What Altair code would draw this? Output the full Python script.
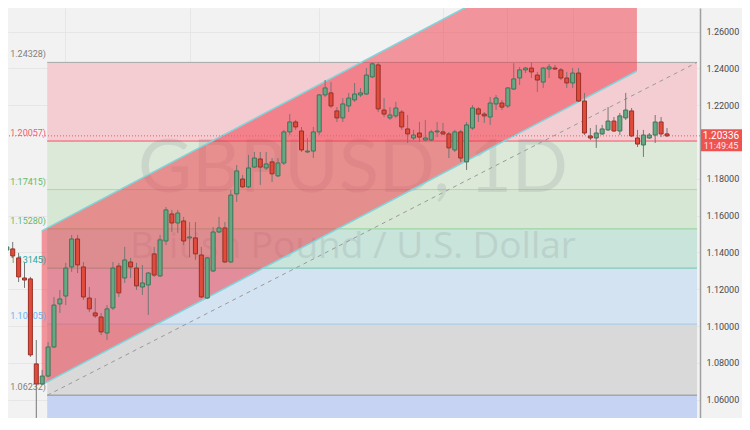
import altair as alt
import pandas as pd

# ---------------- data ----------------
opens = [1.1413, 1.1419, 1.1370, 1.1261, 1.1256, 1.0794, 1.0685, 1.0728, 1.0886, 1.1120,
         1.1163, 1.1321, 1.1473, 1.1321, 1.1152, 1.1071, 1.1049, 1.0962, 1.1098, 1.1326,
         1.1261, 1.1348, 1.1315, 1.1212, 1.1223, 1.1392, 1.1272, 1.1462, 1.1609, 1.1560,
         1.1571, 1.1479, 1.1479, 1.1386, 1.1152, 1.1299, 1.1511, 1.1533, 1.1348, 1.1718,
         1.1799, 1.1756, 1.1864, 1.1908, 1.1859, 1.1892, 1.1816, 1.1886, 1.2055, 1.2109,
         1.2060, 1.1946, 1.1951, 1.2055, 1.2256, 1.2267, 1.2169, 1.2131, 1.2196, 1.2229,
         1.2256, 1.2261, 1.2354, 1.2419, 1.2174, 1.2131, 1.2142, 1.2163, 1.2071, 1.2022,
         1.2049, 1.2011, 1.2011, 1.2055, 1.2055, 1.2044, 1.1957, 1.2055, 1.1892, 1.2076,
         1.2180, 1.2152, 1.2136, 1.2207, 1.2212, 1.2196, 1.2288, 1.2348, 1.2392, 1.2402,
         1.2364, 1.2326, 1.2397, 1.2402, 1.2392, 1.2348, 1.2321, 1.2375, 1.2223, 1.2033,
         1.2022, 1.2044, 1.2066, 1.2114, 1.2060, 1.2131, 1.2169, 1.2022, 1.1984, 1.2022,
         1.2038, 1.2109, 1.2044]
highs = [1.1451, 1.1457, 1.1397, 1.1343, 1.1267, 1.0924, 1.0761, 1.0913, 1.1158, 1.1196,
         1.1343, 1.1495, 1.1495, 1.1348, 1.1212, 1.1152, 1.1071, 1.1114, 1.1348, 1.1343,
         1.1430, 1.1370, 1.1343, 1.1332, 1.1294, 1.1430, 1.1495, 1.1647, 1.1631, 1.1631,
         1.1593, 1.1565, 1.1565, 1.1430, 1.1375, 1.1538, 1.1593, 1.1565, 1.1739, 1.1875,
         1.1821, 1.1930, 1.1946, 1.1946, 1.1946, 1.1913, 1.1913, 1.2066, 1.2152, 1.2120,
         1.2082, 1.2022, 1.2082, 1.2261, 1.2337, 1.2326, 1.2190, 1.2239, 1.2267, 1.2321,
         1.2294, 1.2402, 1.24328, 1.2433, 1.2239, 1.2190, 1.2218, 1.2174, 1.2147, 1.2066,
         1.2109, 1.2120, 1.2066, 1.2109, 1.2104, 1.2055, 1.2066, 1.2066, 1.2109, 1.2201,
         1.2190, 1.2163, 1.2245, 1.2256, 1.2229, 1.2299, 1.2428, 1.2408, 1.2408, 1.2433,
         1.2381, 1.2408, 1.2424, 1.2419, 1.2402, 1.2381, 1.2402, 1.2402, 1.2267, 1.2076,
         1.2093, 1.2093, 1.2190, 1.2136, 1.2158, 1.2267, 1.2185, 1.2066, 1.2066, 1.2049,
         1.2147, 1.2136, 1.2076]
lows = [1.1402, 1.1370, 1.1239, 1.1207, 1.0832, 1.0380, 1.0680, 1.0723, 1.0881, 1.1071,
        1.1114, 1.1294, 1.1288, 1.1142, 1.1076, 1.1044, 1.0951, 1.0924, 1.1087, 1.1158,
        1.1234, 1.1261, 1.1196, 1.1169, 1.1060, 1.1267, 1.1267, 1.1440, 1.1511, 1.1506,
        1.1440, 1.1375, 1.1359, 1.1152, 1.1147, 1.1294, 1.1506, 1.1343, 1.1343, 1.1674,
        1.1750, 1.1750, 1.1859, 1.1767, 1.1848, 1.1783, 1.1810, 1.1875, 1.2038, 1.2066,
        1.1946, 1.1940, 1.1913, 1.2038, 1.2245, 1.2185, 1.2109, 1.2109, 1.2163, 1.2218,
        1.2245, 1.2256, 1.2348, 1.2163, 1.2136, 1.2120, 1.2131, 1.2066, 1.1995, 1.2011,
        1.2000, 1.2006, 1.2006, 1.2027, 1.2038, 1.1913, 1.1946, 1.1892, 1.1848, 1.2066,
        1.2109, 1.2104, 1.2093, 1.2174, 1.2174, 1.2185, 1.2283, 1.2310, 1.2375, 1.2348,
        1.2272, 1.2294, 1.2348, 1.2392, 1.2337, 1.2294, 1.2294, 1.2218, 1.2038, 1.2011,
        1.1968, 1.2038, 1.2060, 1.2055, 1.2038, 1.2120, 1.2027, 1.1973, 1.1919, 1.2017,
        1.1995, 1.2027, 1.2027]
closes = [1.1430, 1.1381, 1.1267, 1.1250, 1.0843, 1.0685, 1.0728, 1.0886, 1.1114, 1.1147,
          1.1315, 1.1473, 1.1332, 1.1158, 1.1093, 1.1055, 1.0968, 1.1093, 1.1315, 1.1180,
          1.1359, 1.1321, 1.1218, 1.1234, 1.1288, 1.1277, 1.1468, 1.1631, 1.1560, 1.1614,
          1.1462, 1.1484, 1.1392, 1.1158, 1.1370, 1.1511, 1.1533, 1.1348, 1.1712, 1.1843,
          1.1756, 1.1859, 1.1913, 1.1864, 1.1881, 1.1827, 1.1886, 1.2055, 1.2109, 1.2082,
          1.1957, 1.1951, 1.2055, 1.2256, 1.2294, 1.2196, 1.2131, 1.2207, 1.2239, 1.2261,
          1.2267, 1.2364, 1.2425, 1.2180, 1.2152, 1.2147, 1.2185, 1.2082, 1.2044, 1.2038,
          1.2027, 1.2022, 1.2055, 1.2060, 1.2044, 1.1968, 1.2055, 1.1913, 1.2093, 1.2185,
          1.2152, 1.2142, 1.2212, 1.2239, 1.2190, 1.2294, 1.2343, 1.2392, 1.2402, 1.2381,
          1.2337, 1.2402, 1.2408, 1.2397, 1.2348, 1.2321, 1.2375, 1.2223, 1.2049, 1.2022,
          1.2049, 1.2071, 1.2114, 1.2060, 1.2142, 1.2174, 1.2033, 1.1989, 1.2038, 1.2038,
          1.2109, 1.2044, 1.20336]

fib_levels = [1.24328, 1.20057, 1.17415, 1.15280, 1.13145, 1.10105, 1.06232]
fib_zone_bottoms = [1.20057, 1.17415, 1.15280, 1.13145, 1.10105, 1.06232, 1.00000]
fib_zone_colors = ["#f3cdd2", "#dce9d8", "#d6e8d4", "#c9e4da", "#d4e3f1", "#d9d9d9", "#c7d3f3"]
fib_line_colors = ["#a6a6a6", "#f2939d", "#a9d8aa", "#90cf96", "#72c3ae", "#9ecaef", "#a6a6a6"]
fib_label_colors = ["#7f7f7f", "#f0606e", "#66bb6a", "#66bb6a", "#26a69a", "#64b5f6", "#7f7f7f"]
fib_start, fib_end = 6.85, 117.1

channel_x = [5.92, 106.9]
channel_lower = [1.0680, 1.2386]
channel_upper = [1.1517, 1.3223]

trend_x = [6.85, 117.1]
trend_y = [1.06232, 1.24328]

last_price = 1.20336
countdown = "11:49:45"
# the 1.20000 label is hidden under the last-price box in the reference
y_ticks = [1.06, 1.08, 1.10, 1.12, 1.14, 1.16, 1.18, 1.22, 1.24, 1.26]
grid_days = [9.8, 31.0, 53.0, 74.0, 84.8, 96.0]
watermark_1 = "GBPUSD, 1D"
watermark_2 = "British Pound / U.S. Dollar"

# ---------------- frames ----------------
candles = pd.DataFrame({"i": list(range(len(opens))), "open": opens, "high": highs,
                        "low": lows, "close": closes})
candles["dir"] = ["up" if c >= o else "down" for o, c in zip(opens, closes)]

zones = pd.DataFrame({"top": fib_levels, "bot": fib_zone_bottoms, "color": fib_zone_colors,
                      "x0": fib_start, "x1": fib_end})
lines = pd.DataFrame({"lvl": fib_levels, "color": fib_line_colors,
                      "lcolor": fib_label_colors, "x0": fib_start, "x1": fib_end,
                      "label": [f"{v:.5f})" for v in fib_levels],
                      "w": [1, 2, 1, 1, 1, 1, 1.5]})
chan = pd.DataFrame({"x": channel_x, "lo": channel_lower, "hi": channel_upper})
trend = pd.DataFrame({"x": trend_x, "y": trend_y})
price = pd.DataFrame({"p": [last_price], "t": [f"{last_price:.5f}"], "c": [countdown]})
wm = pd.DataFrame({"a": [watermark_1], "b": [watermark_2]})

xs = alt.Scale(domain=[0.2, 117.6], nice=False, zero=False)
ys = alt.Scale(domain=[1.0500, 1.27285], nice=False, zero=False)

XA = alt.Axis(values=grid_days, labels=False, ticks=False, domain=False, grid=True,
              gridColor="#e6e6e6", title=None)
YA = alt.Axis(orient="right", values=y_ticks, format=".5f", labelFontSize=9,
              labelColor="#4a4a4a", labelFont="Roboto", ticks=False,
              domainColor="#a0a0a0", domainWidth=1.5, gridColor="#e6e6e6",
              labelPadding=6, title=None)

X = lambda f: alt.X(f, type="quantitative", scale=xs, axis=XA)
Y = lambda f: alt.Y(f, type="quantitative", scale=ys, axis=YA)

zone_layer = alt.Chart(zones).mark_rect(clip=True).encode(
    x=X("x0"), x2="x1", y=Y("top"), y2="bot", color=alt.Color("color:N", scale=None))

line_layer = alt.Chart(lines).mark_rule(clip=True).encode(
    x=X("x0"), x2="x1", y=Y("lvl"), color=alt.Color("color:N", scale=None),
    strokeWidth=alt.StrokeWidth("w:Q", scale=None))

label_layer = alt.Chart(lines).mark_text(align="right", baseline="bottom", dy=-3,
                                         fontSize=9, font="Roboto").encode(
    x=alt.value(38), y=Y("lvl"), text="label:N", color=alt.Color("lcolor:N", scale=None))

wm1 = alt.Chart(wm).mark_text(fontSize=74, font="Lato", color="#787b86", opacity=0.16,
                              baseline="alphabetic").encode(
    x=alt.value(345), y=alt.value(184), text="a:N")
wm2 = alt.Chart(wm).mark_text(fontSize=37, font="Open Sans", color="#787b86", opacity=0.16,
                              baseline="alphabetic").encode(
    x=alt.value(345), y=alt.value(250), text="b:N")

chan_area = alt.Chart(chan).mark_area(clip=True, color="#f23645", opacity=0.5).encode(
    x=X("x"), y=Y("lo"), y2="hi")
chan_lo = alt.Chart(chan).mark_line(clip=True, color="#7fd5db", strokeWidth=1.5).encode(
    x=X("x"), y=Y("lo"))
chan_hi = alt.Chart(chan).mark_line(clip=True, color="#7fd5db", strokeWidth=1.5).encode(
    x=X("x"), y=Y("hi"))

trend_layer = alt.Chart(trend).mark_line(clip=True, color="#9a9a9a", strokeWidth=1,
                                         strokeDash=[4, 4]).encode(x=X("x"), y=Y("y"))

price_line = alt.Chart(price).mark_rule(color="#f05a6a", strokeDash=[1, 2],
                                        strokeWidth=1).encode(y=Y("p"))

wicks = alt.Chart(candles).mark_rule(clip=True, color="#767676", strokeWidth=1).encode(
    x=X("i"), y=Y("low"), y2="high")

bodies = alt.Chart(candles).transform_calculate(
    x0="datum.i - 0.34", x1="datum.i + 0.34").mark_rect(clip=True, strokeWidth=1).encode(
    x=X("x0:Q"), x2="x1:Q", y=Y("open"), y2="close",
    color=alt.Color("dir:N", scale=alt.Scale(domain=["up", "down"],
                                             range=["#66a883", "#e04b3b"]), legend=None),
    stroke=alt.Stroke("dir:N", scale=alt.Scale(domain=["up", "down"],
                                               range=["#3e7458", "#9a2f25"]), legend=None))

box_path = "M-1,-0.283L1,-0.283L1,0.674L-1,0.674Z"
price_box = alt.Chart(price).mark_point(shape=box_path, filled=True, size=2116,
                                        color="#ef5350", opacity=1, strokeWidth=0).encode(
    x=alt.value(716), y=Y("p"))
price_txt = alt.Chart(price).mark_text(color="white", fontSize=10, font="Roboto",
                                       baseline="middle").encode(
    x=alt.value(713), y=Y("p"), text="t:N")
count_txt = alt.Chart(price).mark_text(color="#ffe3e3", fontSize=9, font="Roboto",
                                       baseline="middle", dy=10).encode(
    x=alt.value(713), y=Y("p"), text="c:N")

chart = alt.layer(
    zone_layer, line_layer, wm1, wm2, chan_area, chan_lo, chan_hi, trend_layer,
    price_line, label_layer, wicks, bodies, price_box, price_txt, count_txt
).properties(
    width=692, height=410,
    autosize=alt.AutoSizeParams(type="none"),
    padding={"left": 0, "top": 0, "right": 42, "bottom": 0},
    background="#f2f2f2",
).configure_view(stroke=None)

chart.save("out.html", embed_options={"renderer": "svg", "actions": False})
